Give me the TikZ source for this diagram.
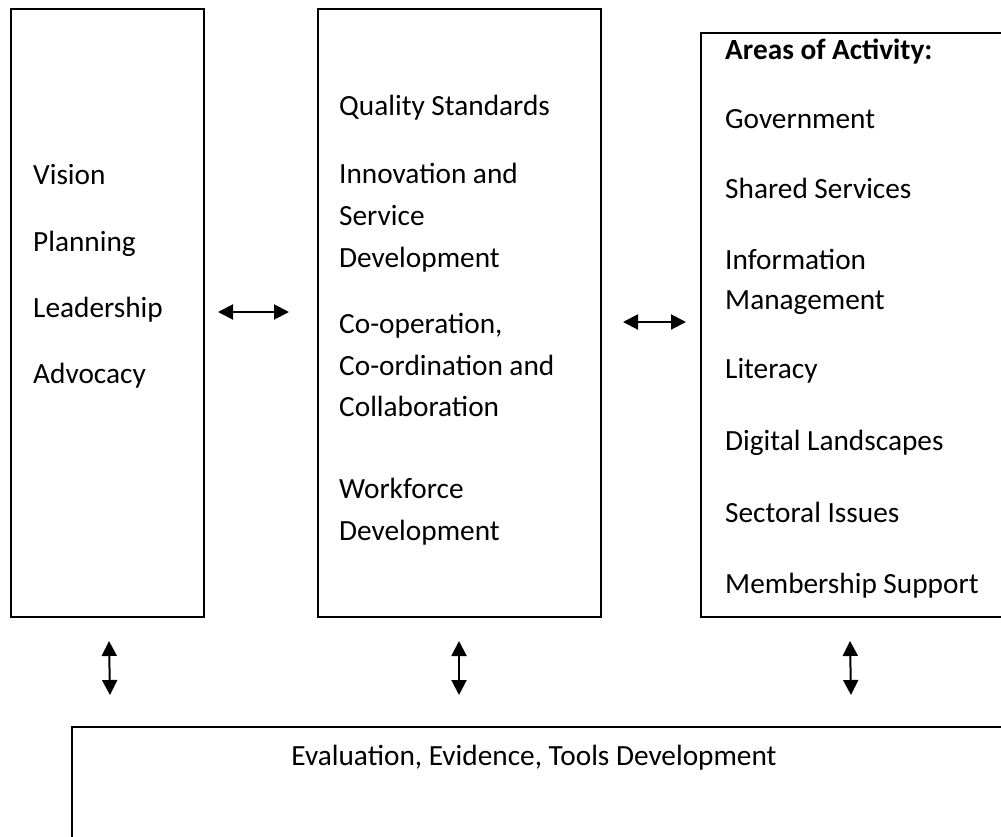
\documentclass[tikz,border=0pt]{standalone}
\usepackage{fontspec}
\setmainfont{Carlito}
\usetikzlibrary{arrows.meta}
\tikzset{
 box/.style={draw, line width=1.6pt, anchor=north west, inner sep=0pt, outer sep=0pt},
 txt/.style={anchor=base west, inner sep=0pt, font=\fontsize{29.3}{35}\selectfont},
 link/.style={line width=2pt, {Triangle[length=15pt,width=15pt]}-{Triangle[length=15pt,width=15pt]}}
}
\begin{document}
\begin{tikzpicture}[x=1pt,y=-1pt]
\useasboundingbox (0,0) rectangle (1001,836);
\clip (0,0) rectangle (1001,836);
% boxes
\node[box, minimum width=193pt, minimum height=608pt] (b1) at (11,9) {};
\node[box, minimum width=283pt, minimum height=608pt] (b2) at (318,9) {};
\node[box, minimum width=330pt, minimum height=584pt] (b3) at (701,33) {};
\node[box, minimum width=960pt, minimum height=200pt] (b4) at (72,727) {};
% box 1 text
\node[txt] (t11) at (33,184) {Vision};
\node[txt] (t12) at (33,251) {Planning};
\node[txt] (t13) at (33,317) {Leadership};
\node[txt] (t14) at (33,383) {Advocacy};
% box 2 text
\node[txt] (t21) at (339,115) {Quality Standards};
\node[txt] (t22) at (339,183) {Innovation and};
\node[txt] (t23) at (339,225) {Service};
\node[txt] (t24) at (339,267) {Development};
\node[txt] (t25) at (339,333) {Co-operation,};
\node[txt] (t26) at (339,375) {Co-ordination and};
\node[txt] (t27) at (339,416) {Collaboration};
\node[txt] (t28) at (339,498) {Workforce};
\node[txt] (t29) at (339,540) {Development};
% box 3 text
\node[txt, font=\fontsize{29.3}{35}\selectfont\bfseries] (t31) at (725,59) {Areas of Activity:};
\node[txt] (t32) at (725,128) {Government};
\node[txt] (t33) at (725,198) {Shared Services};
\node[txt] (t34) at (725,269) {Information};
\node[txt] (t35) at (725,309) {Management};
\node[txt] (t36) at (725,378) {Literacy};
\node[txt] (t37) at (725,450) {Digital Landscapes};
\node[txt] (t38) at (725,522) {Sectoral Issues};
\node[txt] (t39) at (725,593) {Membership Support};
% bottom text
\node[txt, anchor=base] (t41) at (534,765) {Evaluation, Evidence, Tools Development};
% arrow end points
\coordinate (h1a) at (218,312); \coordinate (h1b) at (289,312);
\coordinate (h2a) at (623,322); \coordinate (h2b) at (686,322);
\coordinate (v1a) at (109,641); \coordinate (v1b) at (110,695);
\coordinate (v2a) at (459,641); \coordinate (v2b) at (459,695);
\coordinate (v3a) at (850,641); \coordinate (v3b) at (851,695);
\draw[link] (h1a) -- (h1b);
\draw[link] (h2a) -- (h2b);
\draw[link] (v1a) -- (v1b);
\draw[link] (v2a) -- (v2b);
\draw[link] (v3a) -- (v3b);
\end{tikzpicture}
\end{document}
